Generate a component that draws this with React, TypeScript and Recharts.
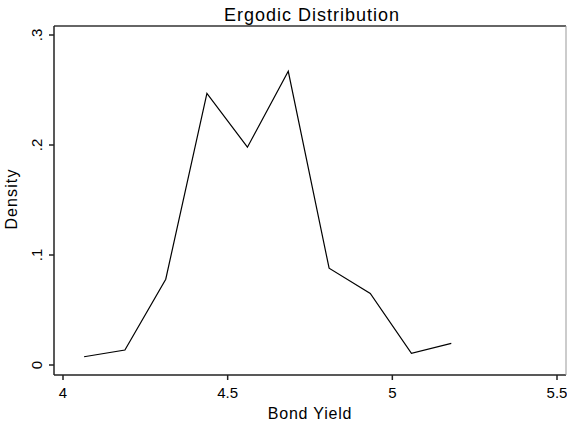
import React from 'react'
import { LineChart, Line, XAxis, YAxis, Customized } from 'recharts'

const bondYield = [4.064, 4.188, 4.312, 4.437, 4.56, 4.684, 4.808, 4.933, 5.058, 5.179]
const density = [0.0075, 0.0136, 0.078, 0.247, 0.198, 0.267, 0.088, 0.065, 0.0106, 0.0197]
const xTicks = [4, 4.5, 5, 5.5]
const yTicks = [0, 0.1, 0.2, 0.3]
const yTickLabels = ['0', '.1', '.2', '.3']

const data = bondYield.map((x, i) => ({ x, y: density[i] }))

const FONT = '"Liberation Sans", Arial, sans-serif'

function YTick(props: any) {
  const { x, y, index } = props
  return (
    <text
      x={x}
      y={y}
      transform={`rotate(-90, ${x}, ${y})`}
      textAnchor="middle"
      fontSize={15}
      fontFamily={FONT}
      fill="#000"
    >
      {yTickLabels[index]}
    </text>
  )
}

function Titles() {
  return (
    <g fontFamily={FONT} fill="#000">
      <text x={312} y={21} textAnchor="middle" fontSize={18} letterSpacing={1}>Ergodic Distribution</text>
      <text x={310} y={419} textAnchor="middle" fontSize={16} letterSpacing={0.8}>Bond Yield</text>
      <text x={17} y={199} transform="rotate(-90, 17, 199)" textAnchor="middle" fontSize={16} letterSpacing={1.1}>Density</text>
    </g>
  )
}

export default function App() {
  return (
    <div style={{ position: 'absolute', left: 0, top: 0, background: '#fff' }}>
      <LineChart width={567} height={423} data={data} margin={{ top: 25, right: 0, bottom: 0, left: 0 }}>
        <XAxis
          dataKey="x"
          type="number"
          domain={[4, 5.5]}
          ticks={xTicks}
          tickFormatter={(v: number) => String(v)}
          padding={{ left: 9, right: 9 }}
          height={48}
          stroke="#222"
          strokeWidth={1.5}
          tickSize={5}
          tickMargin={7}
          tick={{ fill: '#000', fontSize: 15, fontFamily: FONT }}
        />
        <XAxis
          xAxisId="top"
          orientation="top"
          dataKey="x"
          type="number"
          domain={[4, 5.5]}
          height={1}
          tick={false}
          tickLine={false}
          stroke="#333"
          strokeWidth={1.5}
        />
        <YAxis
          type="number"
          domain={[0, 0.3]}
          ticks={yTicks}
          padding={{ top: 9, bottom: 10 }}
          width={54}
          stroke="#222"
          strokeWidth={1.5}
          tickSize={5}
          tickMargin={7}
          tick={<YTick />}
        />
        <YAxis
          yAxisId="right"
          orientation="right"
          type="number"
          domain={[0, 0.3]}
          width={1}
          tick={false}
          tickLine={false}
          stroke="#999"
          strokeWidth={1}
        />
        <Line
          dataKey="y"
          type="linear"
          stroke="#000"
          strokeWidth={1.2}
          dot={false}
          isAnimationActive={false}
        />
        <Customized component={Titles} />
      </LineChart>
    </div>
  )
}
